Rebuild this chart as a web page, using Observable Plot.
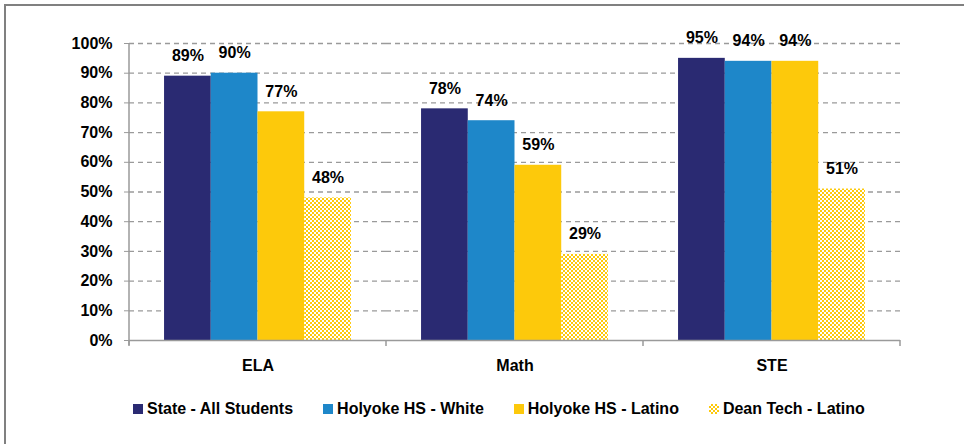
<!DOCTYPE html>
<html>
<head>
<meta charset="utf-8">
<script src="https://cdn.jsdelivr.net/npm/d3@7"></script>
<script src="https://cdn.jsdelivr.net/npm/@observablehq/plot@0.6"></script>
<style>
  html, body { margin: 0; padding: 0; background: #fff; overflow: hidden; width: 964px; height: 444px; }
  #frame { position: absolute; left: 4px; top: 4px; width: 1100px; height: 600px; border: 2px solid #808080; box-sizing: border-box; }
  #chart { position: absolute; left: 0; top: 0; }
  #legend { position: absolute; left: 133px; top: 399px; display: flex; align-items: center; gap: 30px;
            font-family: "Liberation Sans", Arial, sans-serif; font-weight: bold; font-size: 16px; color: #000; line-height: 20px; }
  .item { display: flex; align-items: center; gap: 4px; }
  .sw { width: 10px; height: 10px; }
</style>
</head>
<body>
<div id="frame"></div>
<div id="chart"></div>
<div id="legend"></div>
<script>
const categories = ["ELA", "Math", "STE"];
const series = ["State - All Students", "Holyoke HS - White", "Holyoke HS - Latino", "Dean Tech - Latino"];
const stateAll = [89, 78, 95];
const holyokeWhite = [90, 74, 94];
const holyokeLatino = [77, 59, 94];
const deanTechLatino = [48, 29, 51];
const yTicks = [0, 10, 20, 30, 40, 50, 60, 70, 80, 90, 100];
const colors = ["#2a2a72", "#1e87c9", "#fdc90b", "url(#checker)"];
const yellow = "#fdc90b";

const valuesBySeries = [stateAll, holyokeWhite, holyokeLatino, deanTechLatino];
const data = [];
categories.forEach((c, i) => series.forEach((s, j) => data.push({category: c, series: s, value: valuesBySeries[j][i]})));

const font = "'Liberation Sans', Arial, sans-serif";
const plot = Plot.plot({
  width: 964,
  height: 380,
  marginLeft: 129,
  marginRight: 64,
  marginTop: 43,
  marginBottom: 40,
  style: {fontFamily: font, fontSize: "16px", fontWeight: "bold", background: "transparent", color: "#000"},
  fx: {domain: categories, padding: 0, label: null},
  x: {domain: series, paddingInner: 0, paddingOuter: 0.75, round: false, axis: null},
  y: {domain: [0, 100], label: null},
  color: {type: "ordinal", domain: series, range: colors},
  marks: [
    Plot.gridY(yTicks.filter(d => d > 0), {stroke: "#9a9a9a", strokeOpacity: 1, strokeWidth: 1.3, strokeDasharray: "5,4"}),
    Plot.axisY(yTicks, {tickSize: 5, tickPadding: 12, tickFormat: d => d + "%", stroke: "#9a9a9a", fill: "#000", fontSize: 16, fontWeight: "bold", label: null}),
    Plot.axisFx({anchor: "bottom", tickSize: 0, tickPadding: 19, fontSize: 16, fontWeight: "bold", fill: "#000", label: null}),
    Plot.barY(data, {fx: "category", x: "series", y: "value", fill: "series"}),
    Plot.ruleY([0], {stroke: "#9a9a9a", strokeWidth: 1.5}),
    Plot.text(data, {fx: "category", x: "series", y: "value", text: d => d.value + "%", dy: -20, fontSize: 16, fontWeight: "bold", fill: "#000"})
  ]
});
document.getElementById("chart").appendChild(plot);

// pattern + axis decorations
const svg = d3.select(plot);
const defs = svg.insert("defs", ":first-child");
const pat = defs.append("pattern").attr("id", "checker").attr("patternUnits", "userSpaceOnUse")
  .attr("width", 4).attr("height", 4);
pat.append("rect").attr("width", 4).attr("height", 4).attr("fill", "#fff").attr("shape-rendering", "crispEdges");
pat.append("rect").attr("width", 2).attr("height", 2).attr("fill", yellow).attr("shape-rendering", "crispEdges");
pat.append("rect").attr("x", 2).attr("y", 2).attr("width", 2).attr("height", 2).attr("fill", yellow).attr("shape-rendering", "crispEdges");

const ys = plot.scale("y");
const fxs = plot.scale("fx");
const y0 = ys.apply(0), y1 = ys.apply(100);
const left = fxs.apply(categories[0]);
const deco = svg.append("g").attr("stroke", "#9a9a9a").attr("stroke-width", 1.5);
deco.append("line").attr("x1", left).attr("x2", left).attr("y1", y1).attr("y2", y0 + 5);
const bounds = categories.map(c => fxs.apply(c)).concat([fxs.apply(categories[categories.length - 1]) + fxs.bandwidth]);
bounds.forEach(b => deco.append("line").attr("x1", b).attr("x2", b).attr("y1", y0).attr("y2", y0 + 6));

// legend
const legend = d3.select("#legend");
series.forEach((s, j) => {
  const it = legend.append("div").attr("class", "item");
  const sw = it.append("div").attr("class", "sw");
  if (j === 3) {
    sw.style("background-color", "#fff")
      .style("background-image", `conic-gradient(${yellow} 25%, #fff 0 50%, ${yellow} 0 75%, #fff 0)`)
      .style("background-size", "4px 4px");
  } else {
    sw.style("background", colors[j]);
  }
  it.append("span").text(s);
});
</script>
</body>
</html>
